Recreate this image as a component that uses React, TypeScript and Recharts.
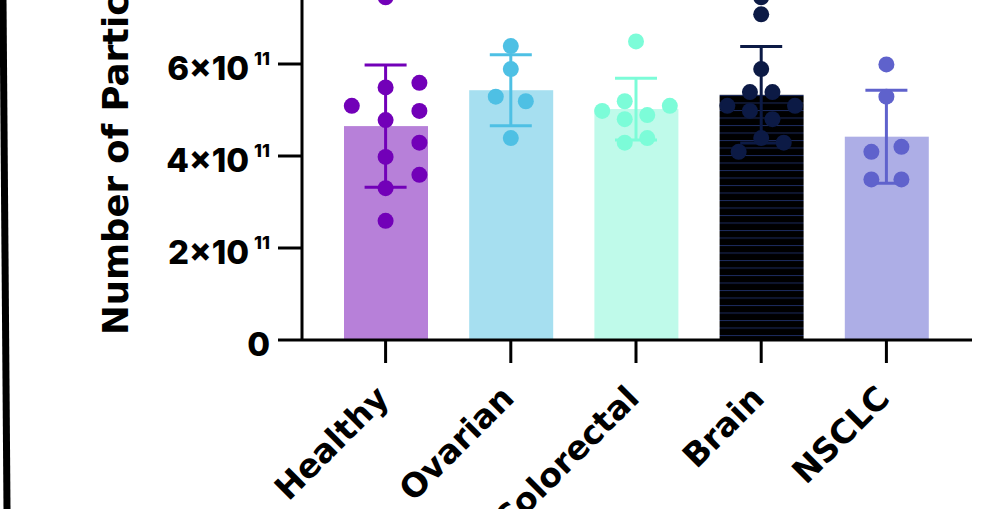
import React from 'react';
import { ComposedChart, Bar, Cell, Scatter, ErrorBar, XAxis, YAxis } from 'recharts';

const groups = ['Healthy', 'Ovarian', 'Colorectal', 'Brain', 'NSCLC'];
const means = [4.65e11, 5.43e11, 5.02e11, 5.33e11, 4.42e11];
const sds = [1.33e11, 0.77e11, 0.67e11, 1.05e11, 1.01e11];
const barColors = ['#b780d9', '#a6dff0', '#bffaea', '#000000', '#adaee6'];
const dotColors = ['#7200b8', '#4ec0e4', '#7cfcd8', '#0c1a45', '#5f62cc'];
const yTicks = [0, 2e11, 4e11, 6e11];

// [jitter in category widths, value]
const healthyPoints = [
  [0, 7.45e11], [0, 5.49e11], [-0.27, 5.09e11], [0.27, 5.59e11], [0.27, 4.98e11], [0, 4.78e11],
  [0.27, 4.29e11], [0, 3.98e11], [0.27, 3.59e11], [0, 3.3e11], [0, 2.59e11],
];
const ovarianPoints = [
  [0, 6.39e11], [0, 5.89e11], [-0.12, 5.29e11], [0.12, 5.19e11], [0, 4.39e11],
];
const colorectalPoints = [
  [0, 6.49e11], [-0.27, 4.98e11], [-0.09, 5.19e11], [0.09, 4.89e11], [-0.09, 4.8e11],
  [-0.09, 4.29e11], [0.09, 4.39e11], [0.27, 5.09e11],
];
const brainPoints = [
  [0, 7.45e11], [0, 7.08e11], [0, 5.89e11], [-0.09, 5.39e11], [0.09, 5.39e11], [-0.27, 5.09e11],
  [0.27, 5.09e11], [-0.09, 4.98e11], [0.09, 4.8e11], [0, 4.39e11], [0.18, 4.29e11], [-0.18, 4.09e11],
];
const nsclcPoints = [
  [0, 5.99e11], [0, 5.29e11], [-0.12, 4.09e11], [0.12, 4.2e11], [-0.12, 3.49e11], [0.12, 3.49e11],
];
const groupPoints = [healthyPoints, ovarianPoints, colorectalPoints, brainPoints, nsclcPoints];

const barData = groups.map((name, i) => ({ name, x: i, mean: means[i] }));

const TICK_FONT = 'Inter, "Open Sans", sans-serif';
const LABEL_FONT = '"DejaVu Sans", Inter, sans-serif';

const YTick = (props: any) => {
  const { x, y, payload } = props;
  const v = payload.value;
  if (v === 0) {
    return (
      <text x={x} y={y + 16} textAnchor="end" fontFamily={TICK_FONT} fontWeight={800} fontSize={33} fill="#000">0</text>
    );
  }
  return (
    <text x={x} y={y + 16} textAnchor="end" fontFamily={TICK_FONT} fontWeight={800} fontSize={33} fill="#000">
      {`${v / 1e11}×10`}
      <tspan dx={5} dy={-15} fontSize={18}>11</tspan>
    </text>
  );
};

const XTick = (props: any) => {
  const { x, y, payload } = props;
  const ax = x + 5;
  const ay = y + 35;
  return (
    <text x={ax} y={ay} transform={`rotate(-45, ${ax}, ${ay})`} textAnchor="end"
      fontFamily={LABEL_FONT} fontWeight={700} fontSize={33} fill="#000">
      {payload.value}
    </text>
  );
};

const renderYLabel = () => (
  <text x={128} y={375} transform="rotate(-90, 128, 375)" textAnchor="start"
    fontFamily={LABEL_FONT} fontWeight={700} fontSize={35.5} fill="#000">
    Number of Particles/mL
  </text>
);

const renderBar = (props: any) => {
  const { x, y, width, height, payload } = props;
  const i = groups.indexOf(payload.name);
  if (payload.name === 'Brain') {
    return (
      <g>
        <defs>
          <pattern id="brainStripes" width={8} height={7.5} patternUnits="userSpaceOnUse">
            <rect width={8} height={7.5} fill="#000" />
            <line x1={0} y1={0.5} x2={8} y2={0.5} stroke="#1c2a5c" strokeWidth={1} />
          </pattern>
        </defs>
        <rect x={x} y={y} width={width} height={height} fill="url(#brainStripes)" />
      </g>
    );
  }
  return <rect x={x} y={y} width={width} height={height} fill={barColors[i]} />;
};

export default function App() {
  return (
    <div style={{ position: 'absolute', left: 0, top: 0, width: 989, height: 509, overflow: 'hidden', background: '#fff' }}>
      <svg width={20} height={509} style={{ position: 'absolute', left: 0, top: 0 }}>
        <line x1={3} y1={0} x2={7} y2={509} stroke="#000" strokeWidth={7} />
      </svg>
      <div style={{ position: 'absolute', left: 0, top: -40 }}>
        <ComposedChart width={989} height={549} data={barData} margin={{ top: 12, right: 17, bottom: 0, left: 0 }}>
          <XAxis
            dataKey="name"
            height={169}
            padding={{ left: 21, right: 23 }}
            interval={0}
            tickSize={23}
            tickMargin={2}
            axisLine={{ stroke: '#000', strokeWidth: 3 }}
            tickLine={{ stroke: '#000', strokeWidth: 3 }}
            tick={<XTick />}
          />
          <XAxis xAxisId="num" type="number" dataKey="x" domain={[-0.5, 4.5]} padding={{ left: 21, right: 23 }} hide allowDataOverflow />
          <YAxis
            width={302}
            domain={[0, 8e11]}
            ticks={yTicks}
            allowDataOverflow
            tickSize={24}
            tickMargin={8}
            axisLine={{ stroke: '#000', strokeWidth: 3 }}
            tickLine={{ stroke: '#000', strokeWidth: 3 }}
            tick={<YTick />}
            label={renderYLabel}
          />
          <Bar dataKey="mean" barSize={84} isAnimationActive={false} shape={renderBar}>
            {barData.map((d, i) => (
              <Cell key={d.name} fill={barColors[i]} />
            ))}
          </Bar>
          {groups.map((g, i) => (
            <Scatter
              key={'err-' + g}
              xAxisId="num"
              dataKey="y"
              data={[{ x: i, y: means[i], sd: sds[i] }]}
              isAnimationActive={false}
              shape={() => <g />}
            >
              <ErrorBar dataKey="sd" direction="y" width={21} stroke={dotColors[i]} strokeWidth={3} isAnimationActive={false} />
            </Scatter>
          ))}
          {groups.map((g, i) => (
            <Scatter
              key={'pts-' + g}
              xAxisId="num"
              dataKey="y"
              data={groupPoints[i].map(([dx, v]) => ({ x: i + dx, y: v }))}
              isAnimationActive={false}
              shape={(p: any) => <circle cx={p.cx} cy={p.cy} r={8} fill={dotColors[i]} />}
            />
          ))}
        </ComposedChart>
      </div>
    </div>
  );
}
